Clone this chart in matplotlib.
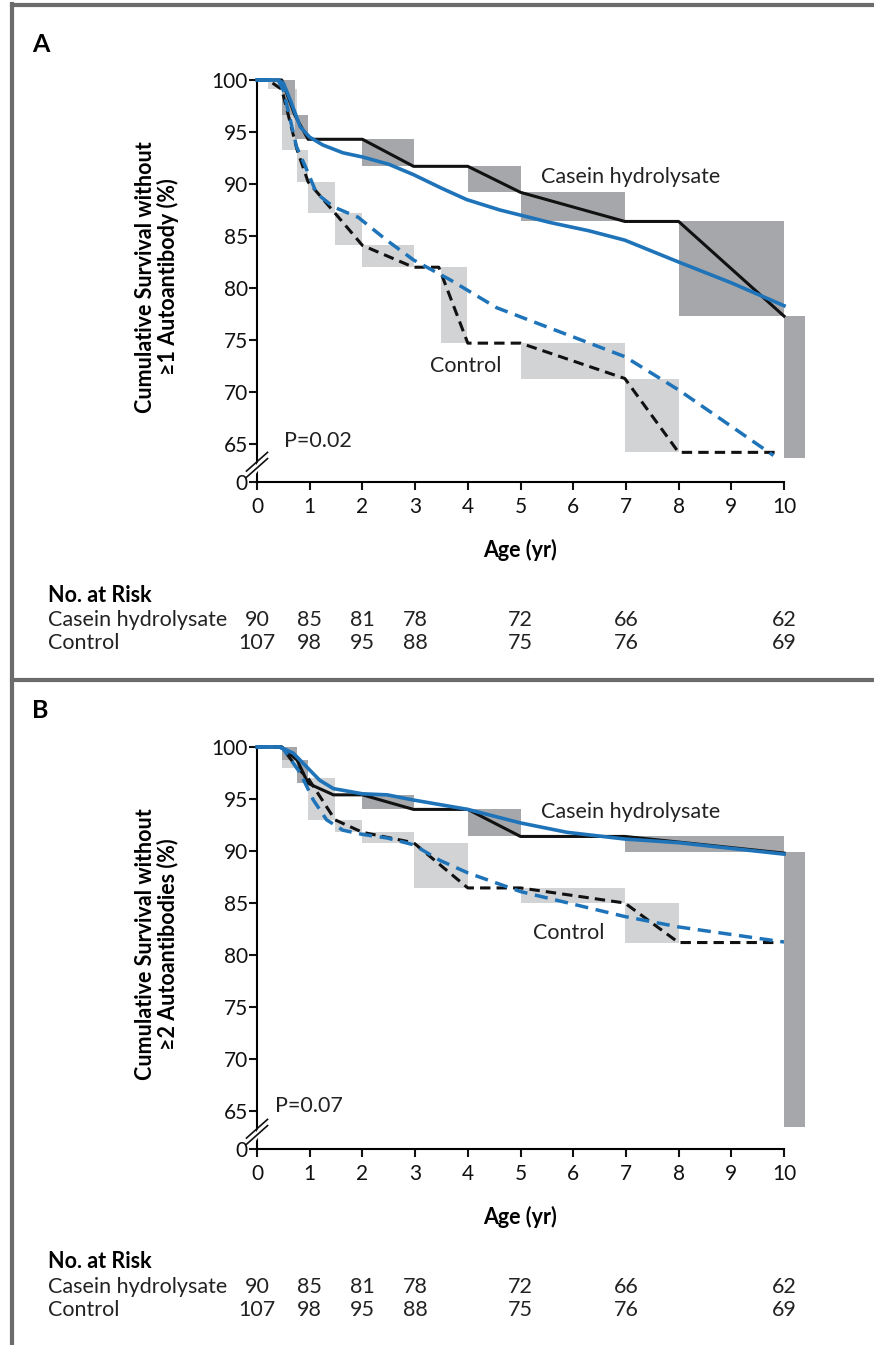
import matplotlib

matplotlib.use("Agg")
import matplotlib.pyplot as plt
from matplotlib.lines import Line2D
from matplotlib.patches import Rectangle, Polygon

plt.rcParams.update({
    "font.family": ["Lato", "DejaVu Sans"],
    "font.size": 15,
    "axes.linewidth": 1.5,
    "xtick.major.width": 1.5,
    "ytick.major.width": 1.5,
    "xtick.major.size": 5.5,
    "ytick.major.size": 5.5,
})

W, H = 874, 1345
BLUE = "#1f74b9"
DARK = "#a6a7aa"
LIGHT = "#d2d3d5"
FRAME = "#6b6b6b"
TXT = "#222"
FS = 15.5
ZERO_POS = 61.35  # where the "0" tick sits below the axis break

# ---- panel A: >=1 autoantibody ----
a_cas_x = [0, 0.47, 0.72, 0.97, 2.0, 2.97, 4.0, 5.0, 6.98, 8.0, 10.0]
a_cas_y = [100, 100, 96.6, 94.3, 94.3, 91.7, 91.7, 89.2, 86.4, 86.4, 77.3]
a_ctl_x = [0, 0.21, 0.47, 0.76, 0.97, 1.48, 2.0, 2.97, 3.45, 4.0, 5.0, 6.98, 8.0, 9.85]
a_ctl_y = [100, 100, 99.1, 93.3, 90.2, 87.2, 84.1, 82.0, 82.0, 74.7, 74.7, 71.3, 64.2, 64.2]
a_cas_fit_x = [0, 0.4, 0.5, 0.63, 0.82, 1.0, 1.25, 1.63, 2.0, 2.5, 2.97, 3.5, 3.98, 4.61, 5.56,
               6.3, 6.98, 8.0, 9.0, 10.0]
a_cas_fit_y = [100, 100, 99.7, 98.1, 95.5, 94.5, 93.75, 93.0, 92.6, 91.9, 90.9, 89.6, 88.5, 87.5,
               86.3, 85.5, 84.6, 82.5, 80.5, 78.3]
a_ctl_fit_x = [0, 0.4, 0.5, 0.75, 0.95, 1.13, 1.45, 1.92, 2.46, 2.97, 3.66, 4.55, 6.98, 8.0, 9.8]
a_ctl_fit_y = [100, 100, 99.0, 93.6, 91.3, 89.1, 87.8, 86.8, 84.6, 82.7, 80.8, 78.1, 73.4, 70.2, 63.9]
# shaded step boxes: (x0, x1, y_low, y_high)
a_cas_boxes = [(0.47, 0.72, 96.6, 100), (0.72, 0.97, 94.3, 96.6), (2.0, 2.97, 91.7, 94.3),
               (4.0, 5.0, 89.2, 91.7), (5.0, 6.98, 86.4, 89.2), (8.0, 10.0, 77.3, 86.4),
               (10.0, 10.4, 63.65, 77.3)]
a_ctl_boxes = [(0.21, 0.47, 99.1, 100), (0.47, 0.76, 93.3, 99.1), (0.76, 0.97, 90.2, 93.3),
               (0.97, 1.48, 87.2, 90.2), (1.48, 2.0, 84.1, 87.2), (2.0, 2.97, 82.0, 84.1),
               (3.49, 3.98, 74.7, 82.0), (5.0, 6.98, 71.3, 74.7), (6.98, 8.0, 64.2, 71.3)]

# ---- panel B: >=2 autoantibodies ----
b_cas_x = [0, 0.47, 0.76, 0.97, 1.45, 2.0, 2.97, 4.0, 5.0, 6.98, 10.0]
b_cas_y = [100, 100, 98.75, 96.5, 95.4, 95.4, 94.0, 94.0, 91.4, 91.4, 89.8]
b_ctl_x = [0, 0.47, 0.76, 0.97, 1.48, 2.0, 2.97, 4.0, 5.0, 6.98, 8.0, 9.8]
b_ctl_y = [100, 100, 98.0, 97.0, 93.0, 91.8, 90.8, 86.45, 86.45, 85.0, 81.2, 81.2]
b_cas_fit_x = [0, 0.44, 0.69, 0.94, 1.19, 1.45, 2.0, 2.47, 2.97, 4.0, 5.0, 5.88, 6.98, 8.0, 10.0]
b_cas_fit_y = [100, 100, 99.4, 98.1, 96.8, 96.0, 95.5, 95.4, 94.9, 94.0, 92.7, 91.8, 91.15, 90.8, 89.7]
b_ctl_fit_x = [0, 0.42, 0.5, 0.82, 1.07, 1.32, 1.63, 2.0, 2.47, 2.97, 3.47, 4.0, 5.0, 6.98, 8.0, 10.0]
b_ctl_fit_y = [100, 100, 99.8, 97.5, 94.9, 93.0, 92.0, 91.6, 91.25, 90.6, 89.1, 87.9, 86.1, 83.7, 82.7, 81.25]
b_cas_boxes = [(0.47, 0.76, 98.75, 100), (0.76, 0.97, 96.5, 98.75), (2.0, 2.97, 94.0, 95.4),
               (4.0, 5.0, 91.4, 94.0), (6.98, 10.0, 89.9, 91.4), (10.0, 10.4, 63.5, 89.9)]
b_ctl_boxes = [(0.47, 0.76, 98.0, 99.6), (0.76, 0.97, 97.0, 98.0), (0.97, 1.48, 93.0, 97.0),
               (1.48, 2.0, 91.8, 93.0), (2.0, 2.97, 90.8, 91.8), (2.97, 4.0, 86.45, 90.8),
               (5.0, 6.98, 85.0, 86.45), (6.98, 8.0, 81.2, 85.0)]

risk_x = [0, 1, 2, 3, 5, 7, 10]
risk_cas = [90, 85, 81, 78, 72, 66, 62]
risk_ctl = [107, 98, 95, 88, 75, 76, 69]

y_ticks = [ZERO_POS, 65, 70, 75, 80, 85, 90, 95, 100]
y_ticklabels = ["0", "65", "70", "75", "80", "85", "90", "95", "100"]


def fx(px):
    return px / W


def fy(py):
    return 1 - py / H


def panel(fig, top_px, letter, ylabel, data, labels):
    (cas_x, cas_y, ctl_x, ctl_y, cfx, cfy, kfx, kfy, cboxes, kboxes) = data
    bottom_px = top_px + 402
    ax = fig.add_axes([fx(257), fy(bottom_px), fx(784) - fx(257), fy(top_px) - fy(bottom_px)])
    ax.set_xlim(0, 10)
    ax.set_ylim(ZERO_POS, 100)
    for s in ("top", "right"):
        ax.spines[s].set_visible(False)
    ax.set_xticks(range(11))
    ax.set_yticks(y_ticks)
    ax.set_yticklabels(y_ticklabels)
    ax.tick_params(labelsize=15, colors="#111", pad=3)
    ax.tick_params(axis="x", pad=5)
    ax.tick_params(axis="y", pad=1)

    for x0, x1, lo, hi in kboxes:
        ax.add_patch(Rectangle((x0, lo), x1 - x0, hi - lo, color=LIGHT, lw=0, clip_on=False, zorder=1))
    for x0, x1, lo, hi in cboxes:
        ax.add_patch(Rectangle((x0, lo), x1 - x0, hi - lo, color=DARK, lw=0, clip_on=False, zorder=2))

    ax.plot(cas_x, cas_y, color="#111", lw=2.2, clip_on=False, zorder=3)
    ax.plot(ctl_x, ctl_y, color="#111", lw=2.2, dashes=(3.4, 2.0), clip_on=False, zorder=3)
    ax.plot(kfx, kfy, color=BLUE, lw=2.5, dashes=(3.8, 2.2), clip_on=False, zorder=4)
    ax.plot(cfx, cfy, color=BLUE, lw=2.6, clip_on=False, zorder=5)

    # axis break marks on the y axis
    yb = ZERO_POS + 1.85
    ax.add_patch(Polygon([(-0.06, yb - 1.25), (0.14, yb + 0.25), (0.14, yb + 0.85), (-0.06, yb - 0.65)],
                         closed=True, color="white", clip_on=False, zorder=6))
    for dy in (-0.3, 0.3):
        ax.add_line(Line2D([-0.2, 0.2], [yb - 1.1 + dy, yb + 0.7 + dy], color="#111", lw=1.2,
                           clip_on=False, zorder=7))

    (cas_lbl, ctl_lbl, p_lbl) = labels
    ax.text(cas_lbl[0], cas_lbl[1], "Casein hydrolysate", fontsize=FS, va="center", color=TXT)
    ax.text(ctl_lbl[0], ctl_lbl[1], "Control", fontsize=FS, va="center", color=TXT)
    ax.text(p_lbl[0], p_lbl[1], p_lbl[2], fontsize=FS, va="center", color=TXT)

    fig.text(fx(32), fy(top_px - 36), letter, fontsize=18, fontweight="bold", va="center")
    fig.text(fx(157), fy(top_px + 197), ylabel, rotation=90, fontsize=FS, fontweight="bold",
             ha="center", va="center", linespacing=1.05)
    fig.text(fx(520), fy(bottom_px + 68), "Age (yr)", fontsize=FS, fontweight="bold",
             ha="center", va="center")

    # number at risk
    t0 = bottom_px + 113
    fig.text(fx(48), fy(t0), "No. at Risk", fontsize=FS, fontweight="bold", va="center")
    fig.text(fx(48), fy(t0 + 25), "Casein hydrolysate", fontsize=FS, va="center", color=TXT)
    fig.text(fx(48), fy(t0 + 48), "Control", fontsize=FS, va="center", color=TXT)
    for t, c, k in zip(risk_x, risk_cas, risk_ctl):
        xp = 257 + 52.7 * t
        fig.text(fx(xp), fy(t0 + 25), str(c), fontsize=FS, ha="center", va="center", color=TXT)
        fig.text(fx(xp), fy(t0 + 48), str(k), fontsize=FS, ha="center", va="center", color=TXT)
    return ax


fig = plt.figure(figsize=(W / 100, H / 100), dpi=100)

panel(fig, 80, "A", "Cumulative Survival without\n\u22651 Autoantibody (%)",
      (a_cas_x, a_cas_y, a_ctl_x, a_ctl_y, a_cas_fit_x, a_cas_fit_y,
       a_ctl_fit_x, a_ctl_fit_y, a_cas_boxes, a_ctl_boxes),
      ((5.39, 90.7), (3.28, 72.5), (0.51, 65.3, "P=0.02")))
panel(fig, 747, "B", "Cumulative Survival without\n\u22652 Autoantibodies (%)",
      (b_cas_x, b_cas_y, b_ctl_x, b_ctl_y, b_cas_fit_x, b_cas_fit_y,
       b_ctl_fit_x, b_ctl_fit_y, b_cas_boxes, b_ctl_boxes),
      ((5.39, 93.75), (5.24, 82.1), (0.34, 65.5, "P=0.07")))

# outer frame: left rule, top rule, and divider between panels
for xs, ys in (([fx(12), fx(12)], [fy(4), 0]), ([fx(12), 1], [fy(5), fy(5)]),
               ([fx(12), 1], [fy(680), fy(680)])):
    fig.add_artist(Line2D(xs, ys, color=FRAME, lw=3, transform=fig.transFigure))

fig.savefig("out.png", dpi=100)
